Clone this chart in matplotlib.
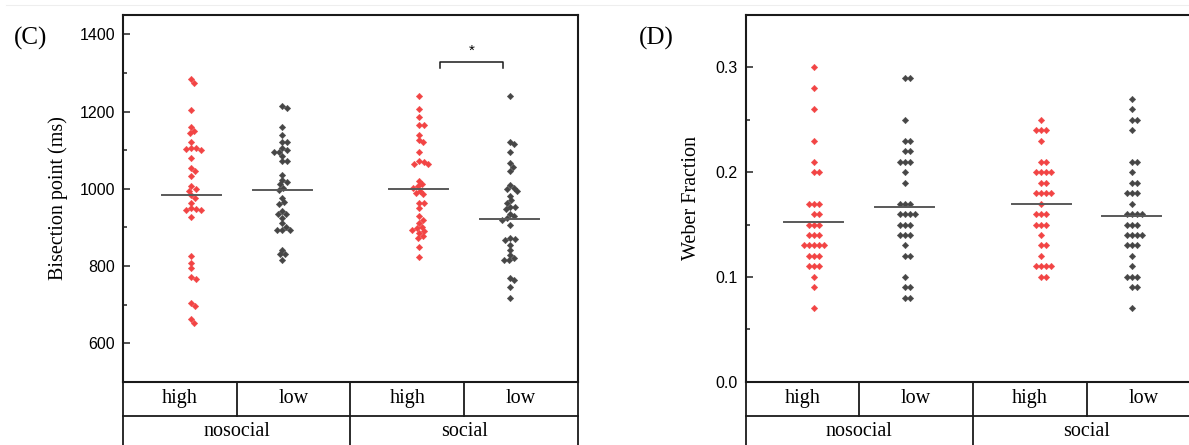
import numpy as np
import matplotlib.pyplot as plt
from matplotlib.lines import Line2D

# Groups along the x axis (condition x level)
conditions = ['nosocial', 'social']
levels = ['high', 'low', 'high', 'low']
group_pos = [1.1, 1.9, 3.1, 3.9]
group_colors = ['#f24444', '#464646', '#f24444', '#464646']

# Bisection point (ms) per participant
bis_nosocial_high = [1284, 1273, 1203, 1160, 1150, 1145, 1121, 1105, 1105, 1103, 1100,
                     1079, 1054, 1045, 1034, 1006, 1000, 995, 984, 977, 964, 950, 948,
                     946, 944, 927, 825, 808, 795, 772, 766, 704, 697, 663, 653]
bis_nosocial_low = [1213, 1209, 1160, 1140, 1120, 1120, 1105, 1100, 1095, 1095, 1085,
                    1072, 1072, 1036, 1023, 1017, 1012, 1003, 997, 977, 965, 960, 941,
                    934, 934, 924, 911, 902, 894, 894, 894, 842, 831, 831, 815]
bis_social_high = [1241, 1207, 1185, 1165, 1165, 1140, 1127, 1120, 1094, 1071, 1068,
                   1065, 1063, 1021, 1012, 1006, 1002, 995, 990, 985, 963, 963, 950,
                   928, 920, 911, 902, 898, 894, 890, 885, 877, 871, 849, 822]
bis_social_low = [1241, 1122, 1116, 1094, 1066, 1056, 1045, 1010, 1003, 999, 993, 982,
                  970, 963, 953, 953, 948, 935, 928, 925, 920, 905, 872, 870, 868, 855,
                  842, 829, 821, 815, 815, 769, 763, 746, 717]
bis_means = [984, 997, 999, 922]

# Weber fraction per participant
wf_nosocial_high = [0.30, 0.28, 0.26, 0.23, 0.21, 0.20, 0.20, 0.17, 0.17, 0.17, 0.16,
                    0.16, 0.15, 0.15, 0.15, 0.14, 0.14, 0.14, 0.13, 0.13, 0.13, 0.13,
                    0.13, 0.12, 0.12, 0.12, 0.11, 0.11, 0.11, 0.10, 0.09, 0.07]
wf_nosocial_low = [0.29, 0.29, 0.25, 0.23, 0.23, 0.22, 0.22, 0.21, 0.21, 0.21, 0.20,
                   0.19, 0.17, 0.17, 0.17, 0.16, 0.16, 0.16, 0.16, 0.15, 0.15, 0.15,
                   0.14, 0.14, 0.14, 0.13, 0.12, 0.12, 0.10, 0.09, 0.09, 0.08, 0.08]
wf_social_high = [0.25, 0.24, 0.24, 0.24, 0.23, 0.21, 0.21, 0.20, 0.20, 0.20, 0.20,
                  0.19, 0.19, 0.18, 0.18, 0.18, 0.18, 0.17, 0.16, 0.16, 0.16, 0.15,
                  0.15, 0.15, 0.14, 0.13, 0.13, 0.12, 0.11, 0.11, 0.11, 0.11, 0.10, 0.10]
wf_social_low = [0.27, 0.26, 0.25, 0.25, 0.24, 0.21, 0.21, 0.20, 0.19, 0.19, 0.18, 0.18,
                 0.18, 0.17, 0.16, 0.16, 0.16, 0.16, 0.15, 0.15, 0.15, 0.14, 0.14, 0.14,
                 0.14, 0.13, 0.13, 0.13, 0.12, 0.11, 0.10, 0.10, 0.10, 0.09, 0.09, 0.07]
wf_means = [0.152, 0.167, 0.170, 0.158]

SERIF = 'Liberation Serif'
SANS = 'Liberation Sans'
DPI = 100
W, H = 1189, 445


def swarm(values, px_per_y, px_per_x, gap=4.8):
    """Offsets (x data units) that keep markers from piling on top of each other."""
    vals = np.asarray(values, dtype=float)
    ys = vals * px_per_y
    placed = []
    offs = np.zeros(len(vals))
    for i in np.argsort(-vals, kind='stable'):
        for k in range(400):
            dx = ((k + 1) // 2) * 0.5 * (1 if k % 2 else -1)
            if all((dx - px) ** 2 + (ys[i] - py) ** 2 >= gap ** 2 for px, py in placed):
                break
        placed.append((dx, ys[i]))
        offs[i] = dx / px_per_x
    return offs


def draw_panel(ax, groups, means, ylim, major, minor, fmt, ylabel, label_x, tag, tag_x):
    ax.set_xlim(0.5, 4.5)
    ax.set_ylim(*ylim)
    bbox = ax.get_position()
    px_per_x = bbox.width * W / 4.0
    px_per_y = bbox.height * H / (ylim[1] - ylim[0])

    for pos, vals, m, col in zip(group_pos, groups, means, group_colors):
        off = swarm(vals, px_per_y, px_per_x)
        ax.plot(pos + off, vals, linestyle='none', marker='D', ms=3.3,
                mfc=col, mec=col, mew=0.3, zorder=3)
        ax.plot([pos - 0.26, pos + 0.26], [m, m], color='#595959', lw=1.4, zorder=4)

    ax.set_xticks([])
    ax.set_yticks(major)
    ax.set_yticks(minor, minor=True)
    ax.set_yticklabels([fmt.format(v) for v in major], fontfamily=SANS, fontsize=11.5)
    ax.tick_params(axis='y', which='both', direction='in', length=4.7, width=1.1,
                   pad=6, color='#222222')
    ax.tick_params(axis='y', which='minor', length=3.0)
    for sp in ax.spines.values():
        sp.set_linewidth(1.5)
        sp.set_color('#1a1a1a')
    ax.set_ylabel(ylabel, fontfamily=SERIF, fontsize=14.5)
    ax.yaxis.set_label_coords(label_x, 0.5)

    # category table under the plot
    tr = ax.get_xaxis_transform()
    r1, r2 = -0.0927, -0.20
    kw = dict(transform=tr, clip_on=False, color='#1a1a1a', lw=1.3)
    ax.add_line(Line2D([0.5, 4.5], [r1, r1], **kw))
    ax.add_line(Line2D([0.5, 0.5], [0, r2], **kw))
    ax.add_line(Line2D([4.5, 4.5], [0, r2], **kw))
    ax.add_line(Line2D([2.5, 2.5], [0, r2], **kw))
    for xb in (1.5, 3.5):
        ax.add_line(Line2D([xb, xb], [0, r1], **kw))
    for i, lev in enumerate(levels):
        ax.text(i + 1, r1 / 2, lev, transform=tr, ha='center', va='center',
                fontfamily=SERIF, fontsize=14.5)
    for i, cond in enumerate(conditions):
        ax.text(1.5 + 2 * i, -0.137, cond, transform=tr, ha='center', va='center',
                fontfamily=SERIF, fontsize=14.5)

    ax.text(tag_x, 0.935, tag, transform=ax.transAxes, ha='left', va='center',
            fontfamily=SERIF, fontsize=18)


fig = plt.figure(figsize=(W / DPI, H / DPI), dpi=DPI)
fig.add_artist(Line2D([0.005, 1], [1 - 5 / H, 1 - 5 / H], color='#eeeeee', lw=0.8))

axc = fig.add_axes([123.3 / W, 63.3 / H, 454.4 / W, 366.7 / H])
draw_panel(axc, [bis_nosocial_high, bis_nosocial_low, bis_social_high, bis_social_low],
           bis_means, (500, 1450), np.arange(600, 1401, 200), np.arange(500, 1451, 100),
           '{:.0f}', 'Bisection point (ms)', -0.122, '(C)', -0.241)

# significance bracket between the social groups
axc.plot([3.29, 3.29, 3.84, 3.84], [1312, 1329, 1329, 1312], color='#1a1a1a', lw=1.1)
axc.text(3.565, 1338, '*', ha='center', va='bottom', fontfamily=SANS, fontsize=11)

axd = fig.add_axes([745.7 / W, 63.3 / H, 454.4 / W, 366.7 / H])
draw_panel(axd, [wf_nosocial_high, wf_nosocial_low, wf_social_high, wf_social_low],
           wf_means, (0, 0.35), np.arange(0, 0.31, 0.1), np.arange(0, 0.351, 0.05),
           '{:.1f}', 'Weber Fraction', -0.098, '(D)', -0.234)

fig.savefig('out.png', dpi=DPI)
